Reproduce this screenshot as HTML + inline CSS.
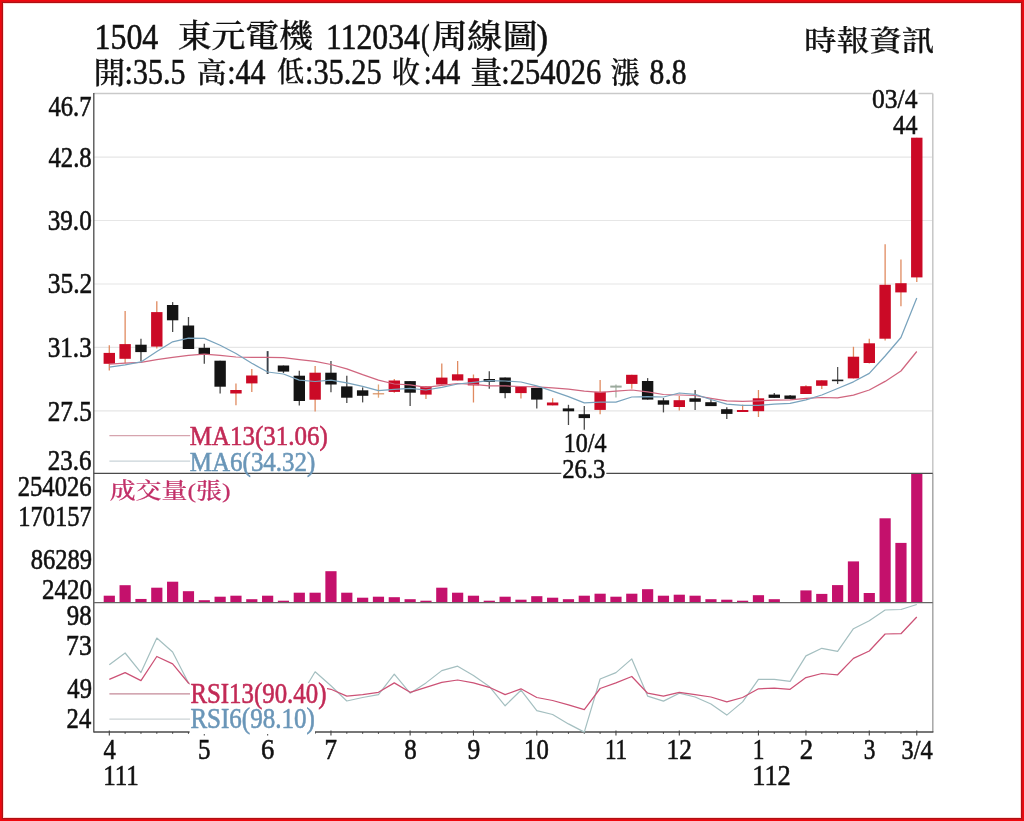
<!DOCTYPE html>
<html lang="zh-Hant"><head><meta charset="utf-8"><title>1504 東元電機 周線圖</title>
<style>html,body{margin:0;padding:0;background:#fff;overflow:hidden}svg{display:block}text{font-family:'Liberation Serif', 'Noto Serif CJK SC', serif;white-space:pre}</style></head><body>
<svg width="1024" height="821" viewBox="0 0 1024 821">
<rect x="0" y="0" width="1024" height="821" fill="#f0070d"/>
<rect x="1" y="1" width="1022" height="819" fill="#da0e15"/>
<rect x="2" y="2" width="1020" height="817" fill="#ae1013"/>
<rect x="3" y="3" width="1018" height="815" fill="#ffdcd8"/>
<rect x="4" y="4" width="1016" height="813" fill="#fff"/>
<g stroke="#e6e6e6" stroke-width="1.2">
<line x1="93.8" y1="157.2" x2="932.8" y2="157.2"/>
<line x1="93.8" y1="220.5" x2="932.8" y2="220.5"/>
<line x1="93.8" y1="284" x2="932.8" y2="284"/>
<line x1="93.8" y1="347.3" x2="932.8" y2="347.3"/>
<line x1="93.8" y1="410.8" x2="932.8" y2="410.8"/>
</g>
<line x1="93.8" y1="93.5" x2="932.8" y2="93.5" stroke="#c9c9c9" stroke-width="1.3"/>
<line x1="932.8" y1="93.5" x2="932.8" y2="473.4" stroke="#c6c6c6" stroke-width="1.5"/>
<line x1="932.8" y1="473.4" x2="932.8" y2="732" stroke="#a6a6a6" stroke-width="1.5"/>
<g fill="#c4116c">
<rect x="103.7" y="595.7" width="11.2" height="7"/>
<rect x="119.53" y="585.2" width="11.2" height="17.5"/>
<rect x="135.37" y="598.95" width="11.2" height="3.75"/>
<rect x="151.2" y="587.7" width="11.2" height="15"/>
<rect x="167.03" y="581.7" width="11.2" height="21"/>
<rect x="182.87" y="591.2" width="11.2" height="11.5"/>
<rect x="198.7" y="600.2" width="11.2" height="2.5"/>
<rect x="214.53" y="596.7" width="11.2" height="6"/>
<rect x="230.36" y="595.7" width="11.2" height="7"/>
<rect x="246.2" y="599.2" width="11.2" height="3.5"/>
<rect x="262.03" y="595.7" width="11.2" height="7"/>
<rect x="277.86" y="600.7" width="11.2" height="2"/>
<rect x="293.7" y="592.7" width="11.2" height="10"/>
<rect x="309.53" y="592.7" width="11.2" height="10"/>
<rect x="325.36" y="571.2" width="11.2" height="31.5"/>
<rect x="341.19" y="592.7" width="11.2" height="10"/>
<rect x="357.03" y="597.7" width="11.2" height="5"/>
<rect x="372.86" y="596.7" width="11.2" height="6"/>
<rect x="388.69" y="597.2" width="11.2" height="5.5"/>
<rect x="404.53" y="599.2" width="11.2" height="3.5"/>
<rect x="420.36" y="600.7" width="11.2" height="2"/>
<rect x="436.19" y="587.7" width="11.2" height="15"/>
<rect x="452.03" y="592.7" width="11.2" height="10"/>
<rect x="467.86" y="595.7" width="11.2" height="7"/>
<rect x="483.69" y="600.7" width="11.2" height="2"/>
<rect x="499.52" y="596.7" width="11.2" height="6"/>
<rect x="515.36" y="599.7" width="11.2" height="3"/>
<rect x="531.19" y="596.2" width="11.2" height="6.5"/>
<rect x="547.02" y="597.7" width="11.2" height="5"/>
<rect x="562.86" y="599.2" width="11.2" height="3.5"/>
<rect x="578.69" y="595.7" width="11.2" height="7"/>
<rect x="594.52" y="593.7" width="11.2" height="9"/>
<rect x="610.36" y="596.7" width="11.2" height="6"/>
<rect x="626.19" y="593.7" width="11.2" height="9"/>
<rect x="642.02" y="589.2" width="11.2" height="13.5"/>
<rect x="657.85" y="595.7" width="11.2" height="7"/>
<rect x="673.69" y="594.7" width="11.2" height="8"/>
<rect x="689.52" y="595.7" width="11.2" height="7"/>
<rect x="705.35" y="599.2" width="11.2" height="3.5"/>
<rect x="721.19" y="599.7" width="11.2" height="3"/>
<rect x="737.02" y="600.7" width="11.2" height="2"/>
<rect x="752.85" y="595.2" width="11.2" height="7.5"/>
<rect x="768.69" y="599.2" width="11.2" height="3.5"/>
<rect x="800.35" y="590.4" width="11.2" height="12.3"/>
<rect x="816.18" y="593.9" width="11.2" height="8.8"/>
<rect x="832.02" y="585.1" width="11.2" height="17.6"/>
<rect x="847.85" y="561.4" width="11.2" height="41.3"/>
<rect x="863.68" y="593" width="11.2" height="9.7"/>
<rect x="879.52" y="518.3" width="11.2" height="84.4"/>
<rect x="895.35" y="542.9" width="11.2" height="59.8"/>
<rect x="911.18" y="473.5" width="11.2" height="129.2"/>
</g>
<g stroke="#4a4a4a" stroke-width="1.3">
<line x1="93.8" y1="93" x2="93.8" y2="732.6"/>
<line x1="93.8" y1="473.4" x2="932.8" y2="473.4"/>
<line x1="93.8" y1="602.7" x2="932.8" y2="602.7" stroke="#666"/>
<line x1="93.8" y1="732" x2="933.4" y2="732" stroke-width="1.5"/>
</g>
<g stroke="#444" stroke-width="1.1">
<line x1="109.3" y1="730.4" x2="109.3" y2="735.6"/>
<line x1="125.13" y1="732" x2="125.13" y2="733.8"/>
<line x1="140.97" y1="732" x2="140.97" y2="733.8"/>
<line x1="156.8" y1="732" x2="156.8" y2="733.8"/>
<line x1="172.63" y1="732" x2="172.63" y2="733.8"/>
<line x1="188.47" y1="732" x2="188.47" y2="733.8"/>
<line x1="204.3" y1="730.4" x2="204.3" y2="735.6"/>
<line x1="220.13" y1="732" x2="220.13" y2="733.8"/>
<line x1="235.96" y1="732" x2="235.96" y2="733.8"/>
<line x1="251.8" y1="732" x2="251.8" y2="733.8"/>
<line x1="267.63" y1="730.4" x2="267.63" y2="735.6"/>
<line x1="283.46" y1="732" x2="283.46" y2="733.8"/>
<line x1="299.3" y1="732" x2="299.3" y2="733.8"/>
<line x1="315.13" y1="732" x2="315.13" y2="733.8"/>
<line x1="330.96" y1="730.4" x2="330.96" y2="735.6"/>
<line x1="346.8" y1="732" x2="346.8" y2="733.8"/>
<line x1="362.63" y1="732" x2="362.63" y2="733.8"/>
<line x1="378.46" y1="732" x2="378.46" y2="733.8"/>
<line x1="394.29" y1="732" x2="394.29" y2="733.8"/>
<line x1="410.13" y1="730.4" x2="410.13" y2="735.6"/>
<line x1="425.96" y1="732" x2="425.96" y2="733.8"/>
<line x1="441.79" y1="732" x2="441.79" y2="733.8"/>
<line x1="457.63" y1="732" x2="457.63" y2="733.8"/>
<line x1="473.46" y1="730.4" x2="473.46" y2="735.6"/>
<line x1="489.29" y1="732" x2="489.29" y2="733.8"/>
<line x1="505.12" y1="732" x2="505.12" y2="733.8"/>
<line x1="520.96" y1="732" x2="520.96" y2="733.8"/>
<line x1="536.79" y1="730.4" x2="536.79" y2="735.6"/>
<line x1="552.62" y1="732" x2="552.62" y2="733.8"/>
<line x1="568.46" y1="732" x2="568.46" y2="733.8"/>
<line x1="584.29" y1="732" x2="584.29" y2="733.8"/>
<line x1="600.12" y1="732" x2="600.12" y2="733.8"/>
<line x1="615.96" y1="730.4" x2="615.96" y2="735.6"/>
<line x1="631.79" y1="732" x2="631.79" y2="733.8"/>
<line x1="647.62" y1="732" x2="647.62" y2="733.8"/>
<line x1="663.45" y1="732" x2="663.45" y2="733.8"/>
<line x1="679.29" y1="730.4" x2="679.29" y2="735.6"/>
<line x1="695.12" y1="732" x2="695.12" y2="733.8"/>
<line x1="710.95" y1="732" x2="710.95" y2="733.8"/>
<line x1="726.79" y1="732" x2="726.79" y2="733.8"/>
<line x1="742.62" y1="732" x2="742.62" y2="733.8"/>
<line x1="758.45" y1="730.4" x2="758.45" y2="735.6"/>
<line x1="774.29" y1="732" x2="774.29" y2="733.8"/>
<line x1="790.12" y1="732" x2="790.12" y2="733.8"/>
<line x1="805.95" y1="730.4" x2="805.95" y2="735.6"/>
<line x1="821.78" y1="732" x2="821.78" y2="733.8"/>
<line x1="837.62" y1="732" x2="837.62" y2="733.8"/>
<line x1="853.45" y1="732" x2="853.45" y2="733.8"/>
<line x1="869.28" y1="730.4" x2="869.28" y2="735.6"/>
<line x1="885.12" y1="732" x2="885.12" y2="733.8"/>
<line x1="900.95" y1="732" x2="900.95" y2="733.8"/>
<line x1="916.78" y1="730.4" x2="916.78" y2="735.6"/>
</g>
<line x1="109.3" y1="345.3" x2="109.3" y2="370.5" stroke="#e08a60" stroke-width="1.3"/>
<rect x="103.6" y="352.9" width="11.4" height="10.9" fill="#cb0a26"/>
<line x1="125.13" y1="311.1" x2="125.13" y2="363.2" stroke="#e08a60" stroke-width="1.3"/>
<rect x="119.43" y="344.1" width="11.4" height="14.7" fill="#cb0a26"/>
<line x1="140.97" y1="338.8" x2="140.97" y2="361.3" stroke="#4a4a4a" stroke-width="1.3"/>
<rect x="135.27" y="344.7" width="11.4" height="7.4" fill="#141414"/>
<line x1="156.8" y1="301.3" x2="156.8" y2="348.6" stroke="#e08a60" stroke-width="1.3"/>
<rect x="151.1" y="312.1" width="11.4" height="34.5" fill="#cb0a26"/>
<line x1="172.63" y1="302.1" x2="172.63" y2="332" stroke="#4a4a4a" stroke-width="1.3"/>
<rect x="166.93" y="305" width="11.4" height="15.3" fill="#141414"/>
<line x1="188.47" y1="317" x2="188.47" y2="349" stroke="#4a4a4a" stroke-width="1.3"/>
<rect x="182.77" y="325.5" width="11.4" height="23.5" fill="#141414"/>
<line x1="204.3" y1="343.7" x2="204.3" y2="363.8" stroke="#4a4a4a" stroke-width="1.3"/>
<rect x="198.6" y="347.8" width="11.4" height="6.7" fill="#141414"/>
<line x1="220.13" y1="360.7" x2="220.13" y2="393.5" stroke="#4a4a4a" stroke-width="1.3"/>
<rect x="214.43" y="360.7" width="11.4" height="26" fill="#141414"/>
<line x1="235.96" y1="383.4" x2="235.96" y2="405.2" stroke="#e08a60" stroke-width="1.3"/>
<rect x="230.26" y="390" width="11.4" height="3.5" fill="#cb0a26"/>
<line x1="251.8" y1="369.1" x2="251.8" y2="392" stroke="#e08a60" stroke-width="1.3"/>
<rect x="246.1" y="375.5" width="11.4" height="7.9" fill="#cb0a26"/>
<line x1="267.63" y1="351.1" x2="267.63" y2="374" stroke="#3a4048" stroke-width="1.9"/>
<line x1="283.46" y1="365.5" x2="283.46" y2="373" stroke="#4a4a4a" stroke-width="1.3"/>
<rect x="277.76" y="365.5" width="11.4" height="6.1" fill="#141414"/>
<line x1="299.3" y1="370.8" x2="299.3" y2="405.5" stroke="#4a4a4a" stroke-width="1.3"/>
<rect x="293.6" y="375.7" width="11.4" height="25.3" fill="#141414"/>
<line x1="315.13" y1="365.9" x2="315.13" y2="411.4" stroke="#e08a60" stroke-width="1.3"/>
<rect x="309.43" y="372.7" width="11.4" height="27" fill="#cb0a26"/>
<line x1="330.96" y1="361" x2="330.96" y2="392.3" stroke="#4a4a4a" stroke-width="1.3"/>
<rect x="325.26" y="372.7" width="11.4" height="11.8" fill="#141414"/>
<line x1="346.8" y1="375.7" x2="346.8" y2="403" stroke="#4a4a4a" stroke-width="1.3"/>
<rect x="341.1" y="386.4" width="11.4" height="11.3" fill="#141414"/>
<line x1="362.63" y1="387.4" x2="362.63" y2="402.4" stroke="#4a4a4a" stroke-width="1.3"/>
<rect x="356.93" y="390.3" width="11.4" height="5.5" fill="#141414"/>
<line x1="378.46" y1="384.5" x2="378.46" y2="397.7" stroke="#e2a678" stroke-width="1.3"/>
<rect x="372.76" y="393.2" width="11.4" height="1.2" fill="#d89060"/>
<line x1="394.29" y1="379" x2="394.29" y2="392.7" stroke="#e08a60" stroke-width="1.3"/>
<rect x="388.59" y="380.5" width="11.4" height="11.4" fill="#cb0a26"/>
<line x1="410.13" y1="381.1" x2="410.13" y2="406" stroke="#4a4a4a" stroke-width="1.3"/>
<rect x="404.43" y="381.1" width="11.4" height="11.6" fill="#141414"/>
<line x1="425.96" y1="386.4" x2="425.96" y2="399" stroke="#e08a60" stroke-width="1.3"/>
<rect x="420.26" y="386.4" width="11.4" height="8.2" fill="#cb0a26"/>
<line x1="441.79" y1="363.4" x2="441.79" y2="384.5" stroke="#e08a60" stroke-width="1.3"/>
<rect x="436.09" y="377.6" width="11.4" height="6.9" fill="#cb0a26"/>
<line x1="457.63" y1="361" x2="457.63" y2="380.5" stroke="#e08a60" stroke-width="1.3"/>
<rect x="451.93" y="374.3" width="11.4" height="6.2" fill="#cb0a26"/>
<line x1="473.46" y1="374.5" x2="473.46" y2="402.5" stroke="#e08a60" stroke-width="1.3"/>
<rect x="467.76" y="378.2" width="11.4" height="7.2" fill="#cb0a26"/>
<line x1="489.29" y1="371.3" x2="489.29" y2="388.8" stroke="#4a4a4a" stroke-width="1.3"/>
<rect x="483.59" y="379" width="11.4" height="3" fill="#141414"/>
<line x1="505.12" y1="377.5" x2="505.12" y2="398.2" stroke="#4a4a4a" stroke-width="1.3"/>
<rect x="499.43" y="377.5" width="11.4" height="15.6" fill="#141414"/>
<line x1="520.96" y1="386.5" x2="520.96" y2="398.6" stroke="#e08a60" stroke-width="1.3"/>
<rect x="515.26" y="386.5" width="11.4" height="6.6" fill="#cb0a26"/>
<line x1="536.79" y1="387.9" x2="536.79" y2="408.4" stroke="#4a4a4a" stroke-width="1.3"/>
<rect x="531.09" y="387.9" width="11.4" height="11.7" fill="#141414"/>
<line x1="552.62" y1="398.2" x2="552.62" y2="405.4" stroke="#e08a60" stroke-width="1.3"/>
<rect x="546.92" y="402.5" width="11.4" height="2.9" fill="#cb0a26"/>
<line x1="568.46" y1="404.8" x2="568.46" y2="425" stroke="#4a4a4a" stroke-width="1.3"/>
<rect x="562.76" y="408.4" width="11.4" height="2.9" fill="#141414"/>
<line x1="584.29" y1="406" x2="584.29" y2="429.8" stroke="#4a4a4a" stroke-width="1.3"/>
<rect x="578.59" y="414.2" width="11.4" height="3.9" fill="#141414"/>
<line x1="600.12" y1="380" x2="600.12" y2="414.2" stroke="#e08a60" stroke-width="1.3"/>
<rect x="594.42" y="391.8" width="11.4" height="18.1" fill="#cb0a26"/>
<line x1="615.96" y1="384.5" x2="615.96" y2="397.6" stroke="#a9b8aa" stroke-width="1.3"/>
<rect x="610.26" y="385.6" width="11.4" height="2" fill="#9aa99c"/>
<line x1="631.79" y1="374.8" x2="631.79" y2="388.8" stroke="#e08a60" stroke-width="1.3"/>
<rect x="626.09" y="374.8" width="11.4" height="9.1" fill="#cb0a26"/>
<line x1="647.62" y1="378.1" x2="647.62" y2="399.6" stroke="#4a4a4a" stroke-width="1.3"/>
<rect x="641.92" y="381" width="11.4" height="18.6" fill="#141414"/>
<line x1="663.45" y1="398" x2="663.45" y2="412.4" stroke="#4a4a4a" stroke-width="1.3"/>
<rect x="657.75" y="400.3" width="11.4" height="4.4" fill="#141414"/>
<line x1="679.29" y1="396" x2="679.29" y2="410.6" stroke="#e08a60" stroke-width="1.3"/>
<rect x="673.59" y="400.2" width="11.4" height="6.8" fill="#cb0a26"/>
<line x1="695.12" y1="390" x2="695.12" y2="410" stroke="#4a4a4a" stroke-width="1.3"/>
<rect x="689.42" y="398.3" width="11.4" height="3.5" fill="#141414"/>
<line x1="710.95" y1="399.5" x2="710.95" y2="406.1" stroke="#4a4a4a" stroke-width="1.3"/>
<rect x="705.25" y="402.2" width="11.4" height="3.9" fill="#141414"/>
<line x1="726.79" y1="407.3" x2="726.79" y2="419" stroke="#4a4a4a" stroke-width="1.3"/>
<rect x="721.09" y="409.2" width="11.4" height="4.7" fill="#141414"/>
<line x1="742.62" y1="404.7" x2="742.62" y2="412" stroke="#e08a60" stroke-width="1.3"/>
<rect x="736.92" y="410" width="11.4" height="2" fill="#cb0a26"/>
<line x1="758.45" y1="390" x2="758.45" y2="417" stroke="#e08a60" stroke-width="1.3"/>
<rect x="752.75" y="398.3" width="11.4" height="12.9" fill="#cb0a26"/>
<line x1="774.29" y1="393" x2="774.29" y2="397.9" stroke="#4a4a4a" stroke-width="1.3"/>
<rect x="768.59" y="394.6" width="11.4" height="3.3" fill="#141414"/>
<line x1="790.12" y1="395" x2="790.12" y2="398.9" stroke="#4a4a4a" stroke-width="1.3"/>
<rect x="784.42" y="395.5" width="11.4" height="3.4" fill="#141414"/>
<line x1="805.95" y1="385.2" x2="805.95" y2="394" stroke="#e08a60" stroke-width="1.3"/>
<rect x="800.25" y="386.2" width="11.4" height="7.8" fill="#cb0a26"/>
<line x1="821.78" y1="380.3" x2="821.78" y2="389.1" stroke="#e08a60" stroke-width="1.3"/>
<rect x="816.08" y="380.3" width="11.4" height="5.5" fill="#cb0a26"/>
<line x1="837.62" y1="367" x2="837.62" y2="384" stroke="#555" stroke-width="1.3"/>
<rect x="831.92" y="379.6" width="11.4" height="1.6" fill="#222"/>
<line x1="853.45" y1="346.8" x2="853.45" y2="378.4" stroke="#e08a60" stroke-width="1.3"/>
<rect x="847.75" y="356.7" width="11.4" height="21.7" fill="#cb0a26"/>
<line x1="869.28" y1="338.7" x2="869.28" y2="363.6" stroke="#e08a60" stroke-width="1.3"/>
<rect x="863.58" y="343.3" width="11.4" height="19.7" fill="#cb0a26"/>
<line x1="885.12" y1="244.3" x2="885.12" y2="340.5" stroke="#e08a60" stroke-width="1.3"/>
<rect x="879.42" y="284.8" width="11.4" height="53.9" fill="#cb0a26"/>
<line x1="900.95" y1="259.6" x2="900.95" y2="306.3" stroke="#e08a60" stroke-width="1.3"/>
<rect x="895.25" y="283.2" width="11.4" height="9.2" fill="#cb0a26"/>
<line x1="916.78" y1="137.7" x2="916.78" y2="282" stroke="#e08a60" stroke-width="1.3"/>
<rect x="911.08" y="137.7" width="11.4" height="139.7" fill="#cb0a26"/>
<polyline fill="none" stroke="#d0667f" stroke-width="1.25" stroke-linejoin="round" points="109.3,364.2 125.13,363.2 140.97,362.3 156.8,359.7 172.63,357.4 188.47,355.4 204.3,354.1 220.13,355.4 235.96,357 251.8,357.4 267.63,357.4 283.46,357.7 299.3,359.7 315.13,361.4 330.96,364.5 346.8,368.8 362.63,374.7 378.46,380.2 394.29,384 410.13,384.8 425.96,387.4 441.79,385.4 457.63,383.5 473.46,384.4 489.29,385.9 505.12,385.9 520.96,386.5 536.79,386.9 552.62,387.9 568.46,389.2 584.29,391.2 600.12,392.3 615.96,391.2 631.79,390 647.62,391.8 663.45,394.5 679.29,395 695.12,395.5 710.95,398.3 726.79,400.8 742.62,401.4 758.45,400.8 774.29,400.2 790.12,399.8 805.95,398.3 821.78,397.5 837.62,397.9 853.45,395.2 869.28,390 885.12,381.4 900.95,371 916.78,351.5"/>
<polyline fill="none" stroke="#79a3bd" stroke-width="1.25" stroke-linejoin="round" points="109.3,367.1 125.13,364.8 140.97,361.9 156.8,351.5 172.63,341.8 188.47,338.2 204.3,338.4 220.13,345.3 235.96,353.5 251.8,363.2 267.63,372 283.46,374 299.3,380.2 315.13,381.5 330.96,380.2 346.8,382.9 362.63,386.4 378.46,390.7 394.29,389.3 410.13,388.4 425.96,390 441.79,387.4 457.63,384 473.46,382.3 489.29,380.6 505.12,381 520.96,382 536.79,385.9 552.62,391.2 568.46,396.6 584.29,402.9 600.12,402.1 615.96,402.1 631.79,397 647.62,396.6 663.45,397 679.29,393 695.12,394.4 710.95,399.5 726.79,404.1 742.62,405.3 758.45,405.3 774.29,404.1 790.12,403.4 805.95,399.8 821.78,395 837.62,388.5 853.45,381.8 869.28,373.4 885.12,356 900.95,337.5 916.78,298"/>
<polyline fill="none" stroke="#a4bfc0" stroke-width="1.2" stroke-linejoin="round" points="109.3,664.7 125.13,653 140.97,672.6 156.8,638 172.63,652 188.47,683 204.3,695 220.13,700 235.96,702 251.8,700 267.63,698 283.46,700 299.3,698 315.13,671.8 330.96,685.8 346.8,701 362.63,697.5 378.46,694.6 394.29,674.1 410.13,693.2 425.96,682.9 441.79,670.6 457.63,666.2 473.46,675.6 489.29,686.4 505.12,705.8 520.96,690.2 536.79,710.7 552.62,714.5 568.46,723.9 584.29,732.1 600.12,679 615.96,672.6 631.79,658.9 647.62,696.1 663.45,701.1 679.29,693.2 695.12,697 710.95,704 726.79,715.1 742.62,701.9 758.45,679.4 774.29,679.4 790.12,681.4 805.95,655.9 821.78,648.3 837.62,651.3 853.45,628.7 869.28,620.7 885.12,610 900.95,609.5 916.78,604.5"/>
<polyline fill="none" stroke="#cc5276" stroke-width="1.25" stroke-linejoin="round" points="109.3,679.4 125.13,672.6 140.97,680.6 156.8,656.5 172.63,663.9 188.47,683 204.3,692 220.13,695 235.96,697 251.8,696 267.63,695 283.46,696 299.3,695 315.13,686 330.96,689.3 346.8,696.1 362.63,694.6 378.46,692.3 394.29,682.9 410.13,692.3 425.96,687.3 441.79,682.3 457.63,680 473.46,682.9 489.29,687.3 505.12,694.6 520.96,688.8 536.79,697.5 552.62,700.5 568.46,704.9 584.29,709.6 600.12,688.5 615.96,682.9 631.79,676.5 647.62,693.2 663.45,696.1 679.29,692.3 695.12,694.6 710.95,697 726.79,701.9 742.62,697.5 758.45,688.8 774.29,688.2 790.12,689.3 805.95,677.6 821.78,673.5 837.62,674.8 853.45,658.4 869.28,651 885.12,634 900.95,633.7 916.78,617"/>
<line x1="109.4" y1="435.6" x2="190.2" y2="435.6" stroke="#d6a4ae" stroke-width="1.2"/>
<line x1="109.4" y1="461.2" x2="190.2" y2="461.2" stroke="#c9d3d8" stroke-width="1.2"/>
<g fill="#fff">
<rect x="189.6" y="683" width="137.4" height="23.6"/>
<rect x="189.6" y="706.6" width="125.4" height="27.5"/>
<rect x="561.3" y="458" width="45" height="21"/>
<rect x="871.5" y="88" width="47" height="46.5"/>
</g>
<line x1="109.4" y1="693.9" x2="190" y2="693.9" stroke="#c48a98" stroke-width="1.2"/>
<line x1="109.4" y1="719.2" x2="190" y2="719.2" stroke="#ccd3d6" stroke-width="1.2"/>
<text font-size="100" fill="#111" stroke="#111" stroke-width="1.61" transform="matrix(0.3194 0 0 0.3636 94.45 48.5)">1504</text>
<text font-size="100" fill="#111" stroke="#111" font-weight="500" stroke-width="0.9" transform="matrix(0.3388 0 0 0.3177 177.64 47.31)">東元電機</text>
<text font-size="100" fill="#111" stroke="#111" stroke-width="1.62" transform="matrix(0.3168 0 0 0.3636 325.97 48.5)">112034</text>
<text font-size="100" fill="#111" stroke="#111" stroke-width="1.77" transform="matrix(0.2593 0 0 0.3636 420.96 48.5)">(</text>
<text font-size="100" fill="#111" stroke="#111" font-weight="500" stroke-width="0.9" transform="matrix(0.3534 0 0 0.3245 431.74 47.88)">周線圖</text>
<text font-size="100" fill="#111" stroke="#111" stroke-width="1.55" transform="matrix(0.3462 0 0 0.3636 536.46 48.5)">)</text>
<text font-size="100" fill="#111" stroke="#111" font-weight="500" stroke-width="0.9" transform="matrix(0.3174 0 0 0.2967 93.44 82.63)">開</text>
<text font-size="100" fill="#111" stroke="#111" stroke-width="1.68" transform="matrix(0.2998 0 0 0.3545 124.6 83.7)">:35.5</text>
<text font-size="100" fill="#111" stroke="#111" font-weight="500" stroke-width="0.9" transform="matrix(0.2978 0 0 0.2874 196.71 82.71)">高</text>
<text font-size="100" fill="#111" stroke="#111" stroke-width="1.68" transform="matrix(0.2997 0 0 0.3545 227.2 83.7)">:44</text>
<text font-size="100" fill="#111" stroke="#111" font-weight="500" stroke-width="0.9" transform="matrix(0.2734 0 0 0.2844 277.08 82.17)">低</text>
<text font-size="100" fill="#111" stroke="#111" stroke-width="1.67" transform="matrix(0.3036 0 0 0.3545 304.98 83.7)">:35.25</text>
<text font-size="100" fill="#111" stroke="#111" font-weight="500" stroke-width="0.9" transform="matrix(0.2826 0 0 0.2904 391.8 82.69)">收</text>
<text font-size="100" fill="#111" stroke="#111" stroke-width="1.72" transform="matrix(0.2855 0 0 0.3545 423.8 83.7)">:44</text>
<text font-size="100" fill="#111" stroke="#111" font-weight="500" stroke-width="0.9" transform="matrix(0.3209 0 0 0.3067 470.2 83.46)">量</text>
<text font-size="100" fill="#111" stroke="#111" stroke-width="1.67" transform="matrix(0.3049 0 0 0.3545 501.37 83.7)">:254026</text>
<text font-size="100" fill="#111" stroke="#111" font-weight="500" stroke-width="0.9" transform="matrix(0.2904 0 0 0.2935 610.63 82.66)">漲</text>
<text font-size="100" fill="#111" stroke="#111" stroke-width="1.69" transform="matrix(0.2958 0 0 0.3545 649.61 83.7)">8.8</text>
<text font-size="100" fill="#111" stroke="#111" font-weight="500" stroke-width="0.9" transform="matrix(0.3255 0 0 0.2900 804.12 50.74)">時報資訊</text>
<text font-size="100" fill="#111" stroke="#111" stroke-width="2.07" transform="matrix(0.2459 0 0 0.2848 48.45 115.6)">46.7</text>
<text font-size="100" fill="#111" stroke="#111" stroke-width="2.07" transform="matrix(0.2474 0 0 0.2848 48.45 166.7)">42.8</text>
<text font-size="100" fill="#111" stroke="#111" stroke-width="2.05" transform="matrix(0.2518 0 0 0.2848 47.69 229.9)">39.0</text>
<text font-size="100" fill="#111" stroke="#111" stroke-width="2.04" transform="matrix(0.2548 0 0 0.2848 47.68 293.4)">35.2</text>
<text font-size="100" fill="#111" stroke="#111" stroke-width="2.05" transform="matrix(0.2518 0 0 0.2848 47.69 356.8)">31.3</text>
<text font-size="100" fill="#111" stroke="#111" stroke-width="2.05" transform="matrix(0.2518 0 0 0.2848 47.69 420.6)">27.5</text>
<text font-size="100" fill="#111" stroke="#111" stroke-width="2.06" transform="matrix(0.2503 0 0 0.2848 47.7 470.1)">23.6</text>
<text font-size="100" fill="#111" stroke="#111" stroke-width="2.07" transform="matrix(0.2466 0 0 0.2848 17.71 495.9)">254026</text>
<text font-size="100" fill="#111" stroke="#111" stroke-width="2.08" transform="matrix(0.2448 0 0 0.2848 18.24 526.4)">170157</text>
<text font-size="100" fill="#111" stroke="#111" stroke-width="2.07" transform="matrix(0.2457 0 0 0.2848 30.76 569.4)">86289</text>
<text font-size="100" fill="#111" stroke="#111" stroke-width="2.06" transform="matrix(0.2497 0 0 0.2848 42 599.1)">2420</text>
<text font-size="100" fill="#111" stroke="#111" stroke-width="2.06" transform="matrix(0.2489 0 0 0.2848 66.85 625.4)">98</text>
<text font-size="100" fill="#111" stroke="#111" stroke-width="2.03" transform="matrix(0.2571 0 0 0.2848 66.06 655.4)">73</text>
<text font-size="100" fill="#111" stroke="#111" stroke-width="2.07" transform="matrix(0.2463 0 0 0.2848 67.35 698.3)">49</text>
<text font-size="100" fill="#111" stroke="#111" stroke-width="2.07" transform="matrix(0.2463 0 0 0.2848 66.61 728.4)">24</text>
<text font-size="100" fill="#111" stroke="#111" stroke-width="2.06" transform="matrix(0.2555 0 0 0.2773 872.03 107.9)">03/4</text>
<text font-size="100" fill="#111" stroke="#111" stroke-width="2.13" transform="matrix(0.2449 0 0 0.2727 892.96 133.6)">44</text>
<text font-size="100" fill="#111" stroke="#111" stroke-width="2.14" transform="matrix(0.2405 0 0 0.2727 563.68 452.2)">10/4</text>
<text font-size="100" fill="#111" stroke="#111" stroke-width="2.1" transform="matrix(0.2470 0 0 0.2773 562.21 478)">26.3</text>
<text font-size="100" fill="#c22a56" stroke="#c22a56" stroke-width="2.06" transform="matrix(0.2500 0 0 0.2831 189.8 445)">MA13(31.06)</text>
<text font-size="100" fill="#6a96b8" stroke="#6a96b8" stroke-width="2.07" transform="matrix(0.2500 0 0 0.2815 189.8 470.8)">MA6(34.32)</text>
<text font-size="100" fill="#c22a56" stroke="#c22a56" stroke-width="2.06" transform="matrix(0.2488 0 0 0.2846 190.4 702.9)">RSI13(90.40)</text>
<text font-size="100" fill="#6a96b8" stroke="#6a96b8" stroke-width="2.06" transform="matrix(0.2501 0 0 0.2846 190.4 728.2)">RSI6(98.10)</text>
<text font-size="100" fill="#c23068" stroke="#c23068" font-weight="500" stroke-width="0.9" transform="matrix(0.2591 0 0 0.2112 109.72 498.25)">成交量(張)</text>
<text font-size="100" fill="#111" stroke="#111" stroke-width="2.07" transform="matrix(0.2458 0 0 0.2848 103.45 758.9)">4</text>
<text font-size="100" fill="#111" stroke="#111" stroke-width="2.06" transform="matrix(0.2500 0 0 0.2848 198.1 758.9)">5</text>
<text font-size="100" fill="#111" stroke="#111" stroke-width="2" transform="matrix(0.2659 0 0 0.2848 261.02 758.9)">6</text>
<text font-size="100" fill="#111" stroke="#111" stroke-width="2.06" transform="matrix(0.2500 0 0 0.2848 324.51 758.9)">7</text>
<text font-size="100" fill="#111" stroke="#111" stroke-width="2.06" transform="matrix(0.2500 0 0 0.2848 404.18 758.9)">8</text>
<text font-size="100" fill="#111" stroke="#111" stroke-width="2.03" transform="matrix(0.2558 0 0 0.2848 467.49 758.9)">9</text>
<text font-size="100" fill="#111" stroke="#111" stroke-width="2.07" transform="matrix(0.2472 0 0 0.2848 524.11 758.9)">10</text>
<text font-size="100" fill="#111" stroke="#111" stroke-width="2.13" transform="matrix(0.2309 0 0 0.2848 604.91 758.9)">11</text>
<text font-size="100" fill="#111" stroke="#111" stroke-width="2.05" transform="matrix(0.2529 0 0 0.2848 666.57 758.9)">12</text>
<text font-size="100" fill="#111" stroke="#111" stroke-width="2.12" transform="matrix(0.2333 0 0 0.2848 752.69 758.9)">1</text>
<text font-size="100" fill="#111" stroke="#111" stroke-width="1.99" transform="matrix(0.2683 0 0 0.2848 799.68 758.9)">2</text>
<text font-size="100" fill="#111" stroke="#111" stroke-width="2.13" transform="matrix(0.2326 0 0 0.2848 863.65 758.9)">3</text>
<text font-size="100" fill="#111" stroke="#111" stroke-width="2.1" transform="matrix(0.2443 0 0 0.2788 901.42 759)">3/4</text>
<text font-size="100" fill="#111" stroke="#111" stroke-width="2.06" transform="matrix(0.2497 0 0 0.2848 103.2 785.2)">111</text>
<text font-size="100" fill="#111" stroke="#111" stroke-width="2" transform="matrix(0.2641 0 0 0.2848 752.19 785.2)">112</text>
</svg></body></html>
